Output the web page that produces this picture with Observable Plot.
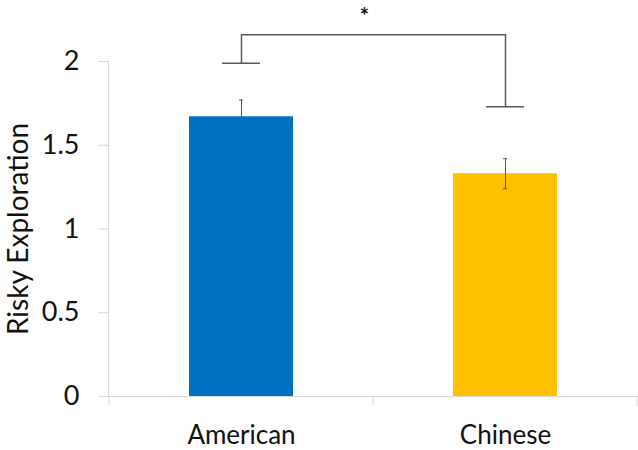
<!DOCTYPE html>
<html>
<head>
<meta charset="utf-8">
<script src="https://cdn.jsdelivr.net/npm/d3@7"></script>
<script src="https://cdn.jsdelivr.net/npm/@observablehq/plot@0.6"></script>
<style>
  html, body { margin: 0; padding: 0; background: #fff; }
  #chart { width: 638px; height: 450px; }
</style>
</head>
<body>
<div id="chart"></div>
<script>
// ---- data ----
const groups = ["American", "Chinese"];
const means = [1.67, 1.33];
const errors = [0.10, 0.09];
const colors = ["#0070C0", "#FFC000"];
const yTicks = [0, 0.5, 1, 1.5, 2];
const yLabel = "Risky Exploration";
// significance bracket: left end, top, right end (in y units)
const bracketLeftY = 1.99;
const bracketTopY = 2.16;
const bracketRightY = 1.73;
const sigLabel = "*";
const sigY = 2.32;

const rows = groups.map((g, i) => ({group: g, mean: means[i], err: errors[i], color: colors[i]}));
const bracket = [
  {group: groups[0], y: bracketLeftY},
  {group: groups[0], y: bracketTopY},
  {group: groups[1], y: bracketTopY},
  {group: groups[1], y: bracketRightY}
];
const caps = [
  {group: groups[0], y: bracketLeftY},
  {group: groups[1], y: bracketRightY}
];

const font = "Lato, 'Open Sans', sans-serif";

// boundary tick marks under the category axis (drawn from the band scale)
function categoryTicks(index, scales, values, dimensions) {
  const x = scales.x;
  const bw = x.bandwidth();
  const y0 = dimensions.height - dimensions.marginBottom;
  const edges = groups.map(g => x(g)).concat([x(groups[groups.length - 1]) + bw]);
  const g = d3.create("svg:g");
  g.selectAll("line").data(edges).join("line")
    .attr("x1", d => d).attr("x2", d => d)
    .attr("y1", y0).attr("y2", y0 + 10)
    .attr("stroke", "#d9d9d9").attr("stroke-width", 1);
  return g.node();
}

const chart = Plot.plot({
  width: 638,
  height: 450,
  marginLeft: 108,
  marginRight: 1,
  marginTop: 61,
  marginBottom: 54,
  style: {fontFamily: font, color: "#111", background: "#fff", overflow: "visible"},
  x: {domain: groups, padding: 0, align: 0.5},
  y: {domain: [0, 2]},
  marks: [
    Plot.frame({anchor: "bottom", stroke: "#d9d9d9"}),
    Plot.frame({anchor: "left", stroke: "#d9d9d9"}),
    categoryTicks,
    Plot.axisY(yTicks, {tickSize: 10, tickPadding: 19, fontSize: 27, stroke: "#d9d9d9", label: null, tickFormat: d => String(d)}),
    Plot.axisX({tickSize: 0, tickPadding: 29, fontSize: 26, label: null}),
    Plot.text([yLabel], {frameAnchor: "left", textAnchor: "middle", rotate: -90, dx: -89, fontSize: 28, fill: "#111"}),
    Plot.barY(rows, {x: "group", y: "mean", fill: "color", insetLeft: 80, insetRight: 80}),
    Plot.ruleX(rows, {x: "group", y1: d => d.mean - d.err, y2: d => d.mean + d.err, stroke: "#555", strokeWidth: 1}),
    Plot.tickY(rows, {x: "group", y: d => d.mean + d.err, stroke: "#555", strokeWidth: 1, insetLeft: 130, insetRight: 130}),
    Plot.tickY(rows, {x: "group", y: d => d.mean - d.err, stroke: "#555", strokeWidth: 1, insetLeft: 130, insetRight: 130}),
    Plot.line(bracket, {x: "group", y: "y", stroke: "#595959", strokeWidth: 1.5}),
    Plot.tickY(caps, {x: "group", y: "y", stroke: "#595959", strokeWidth: 1.5, insetLeft: 113, insetRight: 113}),
    Plot.text([sigLabel], {x: () => groups[0], y: () => sigY, dx: 123, lineAnchor: "top", fontSize: 22, fontWeight: "bold", fill: "#111"})
  ]
});
document.getElementById("chart").appendChild(chart);
</script>
</body>
</html>
